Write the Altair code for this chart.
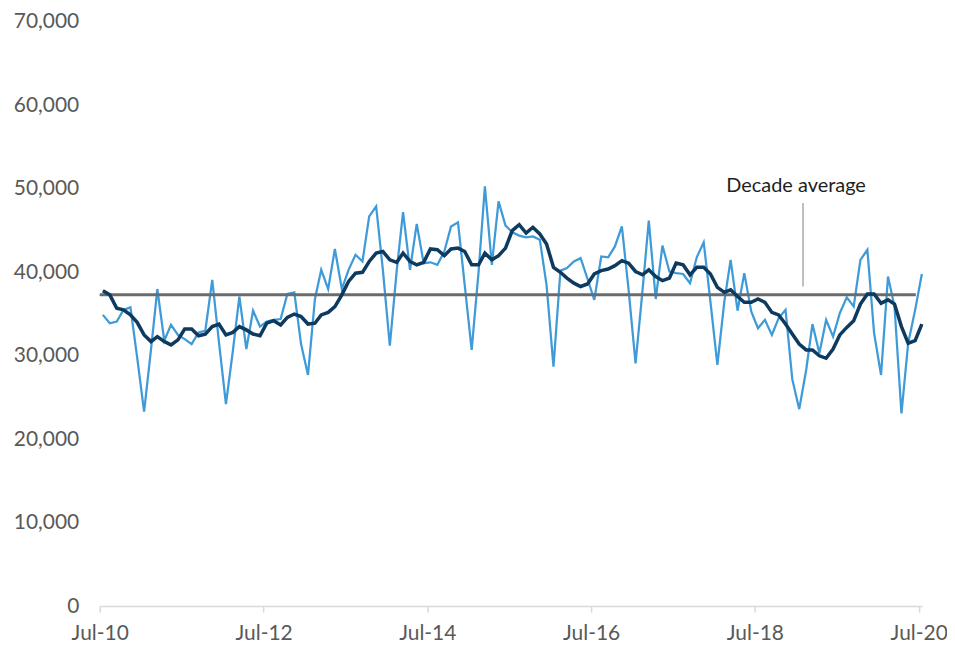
import altair as alt
import pandas as pd

# Monthly values (Jul-10 .. Jul-20)
monthly = [34900, 33900, 34100, 35500, 35800, 29800, 23300, 30800, 38000, 31800,
           33700, 32500, 32000, 31400, 32800, 33000, 39100, 31600, 24200, 30600,
           37100, 30800, 35400, 33500, 34100, 34300, 34400, 37400, 37600, 31400,
           27700, 36800, 40300, 38000, 42800, 38000, 40300, 42100, 41300, 46700,
           47900, 40300, 31200, 40300, 47200, 40300, 45800, 41100, 41200, 40900,
           42500, 45500, 46000, 38500, 30700, 40100, 50300, 40900, 48500, 45600,
           44800, 44400, 44200, 44300, 43900, 38500, 28700, 40200, 40500, 41300,
           41700, 39200, 36700, 41900, 41800, 43100, 45500, 37900, 29100, 37800,
           46200, 36800, 43200, 40100, 39900, 39800, 38700, 41800, 43600, 36500,
           28900, 36500, 41500, 35400, 39900, 35300, 33300, 34300, 32500, 34500,
           35500, 27200, 23600, 28300, 33800, 30300, 34300, 32300, 35100, 37000,
           35900, 41500, 42700, 32700, 27700, 39500, 35900, 23100, 31500, 35500,
           39800]

# Smoothed series (dark line)
rolling = [37800, 37300, 35700, 35500, 34900, 34000, 32500, 31700, 32300, 31700,
           31300, 31900, 33200, 33200, 32400, 32600, 33500, 33800, 32500, 32800,
           33500, 33100, 32600, 32400, 33900, 34200, 33700, 34600, 35000, 34700,
           33800, 33900, 34900, 35200, 35900, 37300, 38900, 39900, 40000, 41300,
           42300, 42500, 41500, 41200, 42300, 41300, 40900, 41200, 42800, 42700,
           42000, 42800, 42900, 42500, 40900, 40900, 42300, 41500, 42000, 42900,
           45000, 45700, 44700, 45400, 44600, 43400, 40600, 40000, 39300, 38700,
           38300, 38600, 39800, 40200, 40400, 40800, 41400, 41100, 40100, 39700,
           40300, 39500, 39000, 39300, 41100, 40900, 39700, 40600, 40600, 39800,
           38200, 37600, 37900, 37100, 36400, 36400, 36800, 36400, 35200, 34900,
           33800, 32600, 31400, 30700, 30700, 30000, 29700, 30800, 32500, 33400,
           34200, 36200, 37400, 37400, 36300, 36700, 36200, 33500, 31500, 31800,
           33800]

dates = [f"{2010 + (6 + i) // 12}-{(6 + i) % 12 + 1:02d}-15" for i in range(len(monthly))]

decade_avg = [37300]
avg_start = ["2010-07-01"]
avg_end = ["2020-06-18"]

annot_text = ["Decade average"]
annot_text_date = ["2019-01-01"]
annot_text_y = [50300]
annot_line_date = ["2019-02-01"]
annot_line_y1 = [38300]
annot_line_y2 = [48300]

y_ticks = list(range(0, 70001, 10000))
x_tick_years = list(range(2010, 2021, 2))

df = pd.DataFrame({"date": dates, "monthly": monthly, "rolling": rolling})
avg_df = pd.DataFrame({"start": avg_start, "end": avg_end, "value": decade_avg})
txt_df = pd.DataFrame({"date": annot_text_date, "y": annot_text_y, "label": annot_text})
aline_df = pd.DataFrame({"date": annot_line_date, "y1": annot_line_y1, "y2": annot_line_y2})

FONT = "Lato"
LABEL_COLOR = "#595959"


def X(field):
    return alt.X(
        field,
        scale=alt.Scale(type="utc", domain=[alt.DateTime(year=2010, month=7, date=1, utc=True),
                                            alt.DateTime(year=2020, month=7, date=16, utc=True)]),
        axis=alt.Axis(
            title=None,
            values=[alt.DateTime(year=yr, month=7, date=1, utc=True) for yr in x_tick_years],
            labelExpr="utcFormat(datum.value, '%b-%y')",
            grid=False, domainColor="#D9D9D9", domainWidth=1.5,
            tickColor="#D9D9D9", tickWidth=1.5, tickSize=6,
            labelFont=FONT, labelFontSize=21, labelColor=LABEL_COLOR, labelPadding=10,
            labelFlush=False,
        ),
    )


def Y(field):
    return alt.Y(
        field,
        scale=alt.Scale(domain=[0, 70000]),
        axis=alt.Axis(
            title=None, values=y_ticks, labelExpr="format(datum.value, ',')",
            grid=False, domain=False, ticks=False,
            labelFont=FONT, labelFontSize=21, labelColor=LABEL_COLOR, labelPadding=21,
        ),
    )


light = alt.Chart(df).mark_line(color="#3E9BD8", strokeWidth=2.25).encode(
    x=X("date:T"), y=Y("monthly:Q"))

avg = alt.Chart(avg_df).mark_rule(color="#6B6B6B", strokeWidth=3).encode(
    x=X("start:T"), x2="end:T", y=Y("value:Q"))

dark = alt.Chart(df).mark_line(color="#0D3A5E", strokeWidth=3.5).encode(
    x=X("date:T"), y=Y("rolling:Q"))

aline = alt.Chart(aline_df).mark_rule(color="#808080", strokeWidth=1).encode(
    x=X("date:T"), y=Y("y1:Q"), y2="y2:Q")

txt = alt.Chart(txt_df).mark_text(font=FONT, fontSize=20, color="#1F1F1F",
                                  align="center", baseline="middle").encode(
    x=X("date:T"), y=Y("y:Q"), text="label:N")

chart = alt.layer(light, avg, dark, aline, txt).properties(
    width=825, height=586,
    padding={"left": 92, "top": 13, "right": 25, "bottom": 40},
    autosize=alt.AutoSizeParams(type="none"),
    background="white",
).configure_view(stroke=None)

chart.save("out.html", embed_options={"renderer": "svg", "actions": False})
